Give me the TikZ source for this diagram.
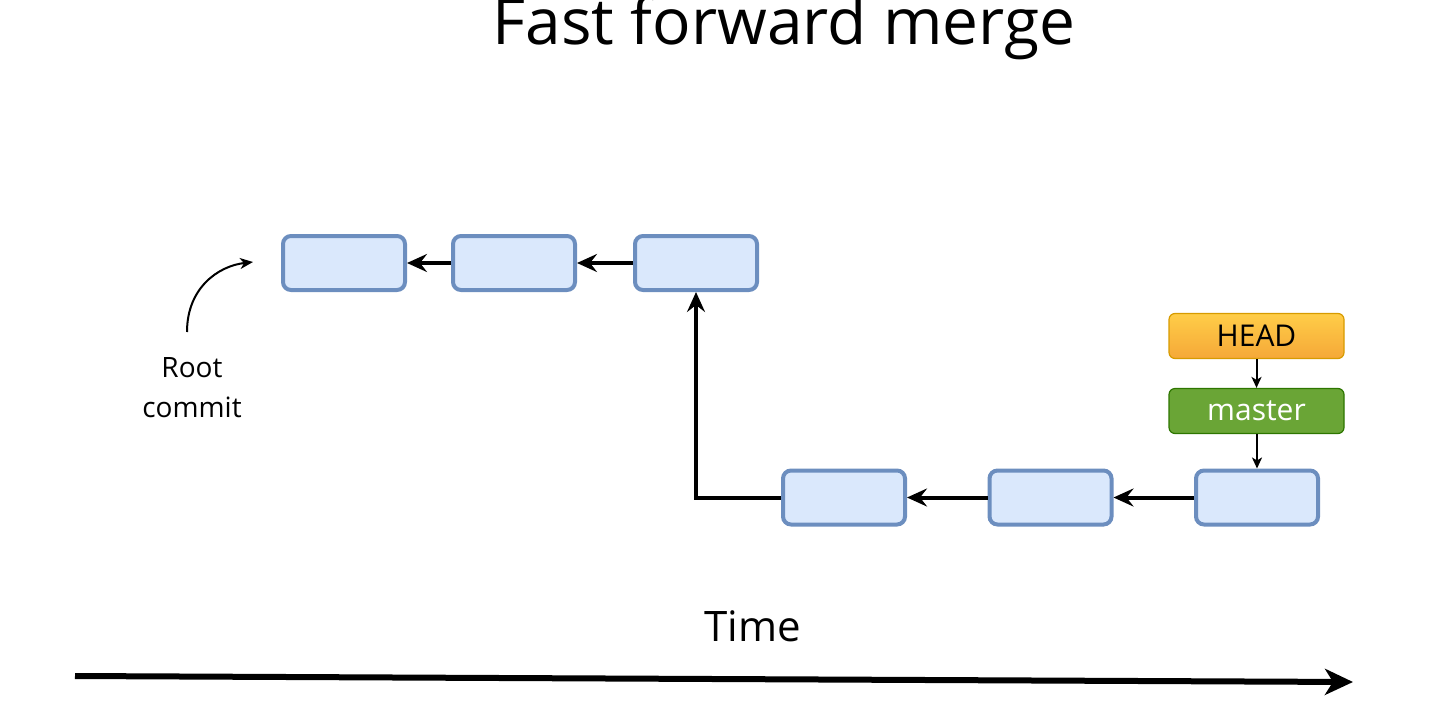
\documentclass[tikz,border=0pt]{standalone}
\usepackage{fontspec}
\setmainfont{Open Sans}
\usetikzlibrary{arrows.meta}
\definecolor{cfill}{HTML}{DAE8FC}
\definecolor{cstroke}{HTML}{6C8EBF}
\definecolor{headtop}{HTML}{FFCD48}
\definecolor{headbot}{HTML}{F5A838}
\definecolor{headstroke}{HTML}{D79B00}
\definecolor{mfill}{HTML}{6AA536}
\definecolor{mstroke}{HTML}{2D7600}
\tikzset{
  commit/.style={draw=cstroke, fill=cfill, line width=2pt, rounded corners=4pt,
    minimum width=61pt, minimum height=27pt, inner sep=0pt},
  refbox/.style={line width=0.6pt, rounded corners=3pt, minimum width=87.5pt,
    minimum height=22.5pt, inner sep=0pt, font=\fontsize{15pt}{18pt}\selectfont},
  parent/.style={line width=2pt, -{Stealth[length=10pt,width=9pt,inset=3.5pt]}},
  thin/.style={line width=1pt, -{Stealth[length=5.5pt,width=5pt,inset=1.5pt]}},
}
\begin{document}
\begin{tikzpicture}[x=0.5pt,y=-0.5pt]
\useasboundingbox (0,0) rectangle (1433,706);
% title
\node[anchor=base, inner sep=0pt, font=\fontsize{32pt}{38pt}\selectfont] (title) at (784,45) {Fast forward merge};
% commits
\node[commit] (c1) at (344,263) {};
\node[commit] (c2) at (514,263) {};
\node[commit] (c3) at (696,263) {};
\node[commit] (c4) at (844,497.5) {};
\node[commit] (c5) at (1050.5,497.5) {};
\node[commit] (c6) at (1257,497.5) {};
% refs
\node[refbox, draw=headstroke, top color=headtop, bottom color=headbot] (head) at (1256.5,336) {HEAD};
\node[refbox, draw=mstroke, fill=mfill, text=white] (master) at (1256.5,411) {master};
% parent arrows
\draw[parent] (c2) -- (c1);
\draw[parent] (c3) -- (c2);
\draw[parent] (c5) -- (c4);
\draw[parent] (c6) -- (c5);
\draw[parent] (c4.west) -| (c3.south);
\draw[thin] (head) -- (master);
\draw[thin] (master.south -| c6.north) -- (c6.north);
% root commit label
\node[align=center, inner sep=0pt, font=\fontsize{14pt}{20pt}\selectfont] (root) at (192,388) {Root\\commit};
\coordinate (rootend) at (253,262);
\coordinate (rootstart) at (187,332);
\draw[line width=1pt, -{Stealth[length=6.5pt,width=5.5pt,inset=2pt]}] (rootstart) .. controls (187,288) and (218,266) .. (rootend);
% time
\node[anchor=base, inner sep=0pt, font=\fontsize{21pt}{25pt}\selectfont] (time) at (753,641) {Time};
\coordinate (t0) at (75,676);
\coordinate (t1) at (1353,682);
\draw[line width=3pt, -{Stealth[length=14pt,width=13pt,inset=4pt]}] (t0) -- (t1);
\end{tikzpicture}
\end{document}
